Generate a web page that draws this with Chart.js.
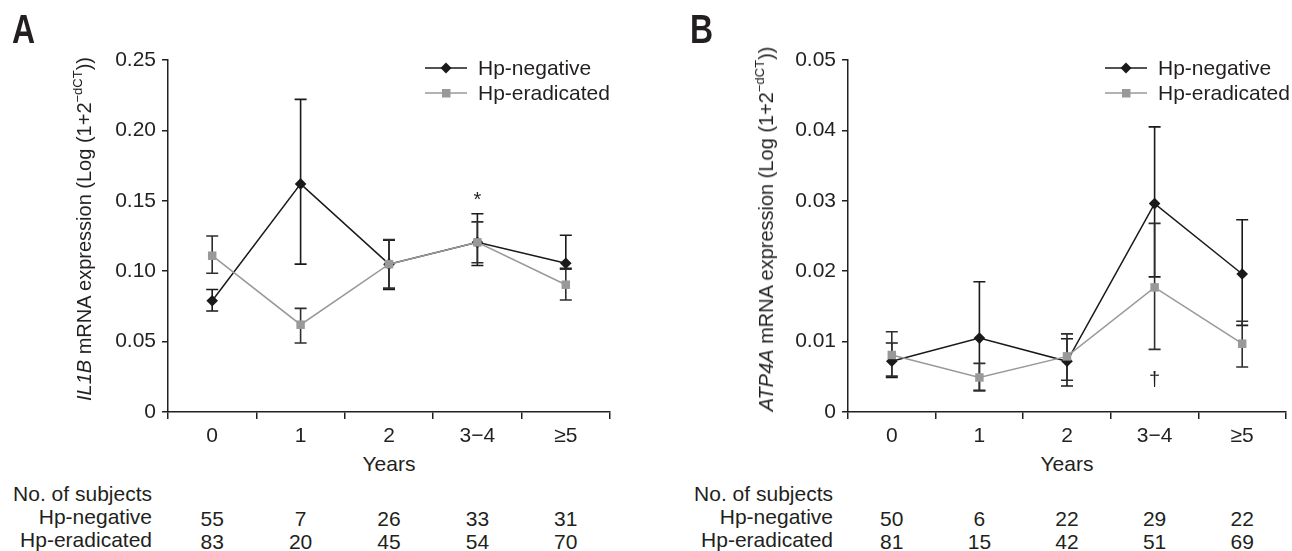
<!DOCTYPE html>
<html><head><meta charset="utf-8">
<script src="https://cdn.jsdelivr.net/npm/chart.js@4.4.0/dist/chart.umd.min.js"></script>
<style>
html,body{margin:0;padding:0;background:#fff;}
body{width:1292px;height:551px;position:relative;overflow:hidden;font-family:'Liberation Sans',Arial,sans-serif;color:#231f20;}
canvas{position:absolute;top:0;}
.t{position:absolute;white-space:nowrap;font-size:21px;line-height:24px;}
.letter{position:absolute;font-family:'Liberation Sans',Arial,sans-serif;font-weight:bold;font-size:40px;line-height:40px;transform:scaleX(0.8);transform-origin:0 0;}
.ytitle{position:absolute;white-space:nowrap;font-size:20px;line-height:24px;transform:translate(-50%,-50%) rotate(-90deg);}
.ytitle sup{font-size:13px;vertical-align:9px;line-height:0;}
</style></head><body>
<canvas id="cA" width="640" height="452" style="left:0"></canvas>
<canvas id="cB" width="652" height="452" style="left:640px"></canvas>
<div class="letter" style="left:12px;top:9px">A</div>
<div class="letter" style="left:690px;top:9px">B</div>
<div class="ytitle" style="left:84px;top:229px"><i>IL1B</i> mRNA expression (Log (1+2<sup>−dCT</sup>))</div>
<div class="ytitle" style="left:766px;top:229px"><i>ATP4A</i> mRNA expression (Log (1+2<sup>−dCT</sup>))</div>
<div id="overlay"></div>
<script>
// ---------- data ----------
const categories = ['0', '1', '2', '3−4', '≥5'];
const seriesNames = ['Hp-negative', 'Hp-eradicated'];

// Panel A: IL1B
const aNegMean = [0.079, 0.162, 0.105, 0.1205, 0.1056];
const aNegLow  = [0.0717, 0.105, 0.087, 0.104, 0.102];
const aNegHigh = [0.087, 0.222, 0.122, 0.1408, 0.1255];
const aEradMean = [0.111, 0.062, 0.105, 0.1205, 0.0904];
const aEradLow  = [0.0985, 0.049, 0.088, 0.106, 0.0795];
const aEradHigh = [0.125, 0.0736, 0.1225, 0.135, 0.1014];
const aTicks = [0, 0.05, 0.10, 0.15, 0.20, 0.25];
const aCountsNeg  = [55, 7, 26, 33, 31];
const aCountsErad = [83, 20, 45, 54, 70];
const aMarkText  = ['', '', '', '*', ''];
const aMarkValue = [null, null, null, 0.146, null];

// Panel B: ATP4A
const bNegMean = [0.0072, 0.0105, 0.0072, 0.0296, 0.0196];
const bNegLow  = [0.0049, 0.0031, 0.0037, 0.0192, 0.0123];
const bNegHigh = [0.0098, 0.0185, 0.0104, 0.0405, 0.0273];
const bEradMean = [0.0081, 0.0049, 0.0079, 0.0177, 0.0097];
const bEradLow  = [0.0051, 0.0030, 0.0045, 0.0089, 0.0064];
const bEradHigh = [0.0114, 0.0069, 0.0111, 0.0268, 0.0129];
const bTicks = [0, 0.01, 0.02, 0.03, 0.04, 0.05];
const bCountsNeg  = [50, 6, 22, 29, 22];
const bCountsErad = [81, 15, 42, 51, 69];
const bMarkText  = ['', '', '', '†', ''];
const bMarkValue = [null, null, null, 0.0037, null];

// ---------- styling ----------
const INK = '#231f20';
const NEG = '#1a1a1a';
const ERAD = '#999999';
const FONT = "'Liberation Sans', Arial, sans-serif";

const errBars = {
  id: 'errBars',
  beforeDatasetsDraw(chart) {
    const ctx = chart.ctx, ys = chart.scales.y;
    chart.data.datasets.forEach((ds, di) => {
      const meta = chart.getDatasetMeta(di);
      ctx.save();
      ctx.strokeStyle = ds.errColor;
      ctx.lineWidth = 1.6;
      ds.errLow.forEach((lo, i) => {
        const x = meta.data[i].x;
        const yl = ys.getPixelForValue(lo), yh = ys.getPixelForValue(ds.errHigh[i]);
        ctx.beginPath();
        ctx.moveTo(x, yl); ctx.lineTo(x, yh);
        ctx.moveTo(x - 6, yl); ctx.lineTo(x + 6, yl);
        ctx.moveTo(x - 6, yh); ctx.lineTo(x + 6, yh);
        ctx.stroke();
      });
      ctx.restore();
    });
  },
  afterDatasetsDraw(chart, args, opts) {
    const ctx = chart.ctx, xs = chart.scales.x, ys = chart.scales.y;
    ctx.save();
    ctx.fillStyle = INK;
    ctx.font = '20px ' + FONT;
    ctx.textAlign = 'center';
    ctx.textBaseline = 'alphabetic';
    opts.text.forEach((t, i) => {
      if (!t) return;
      ctx.fillText(t, xs.getPixelForValue(i), ys.getPixelForValue(opts.value[i]));
    });
    ctx.restore();
  }
};

function makeChart(id, yWidth, padRight, neg, negLo, negHi, erad, eradLo, eradHi, ticks, maxY, markText, markValue) {
  const canvas = document.getElementById(id);
  return new Chart(canvas, {
    type: 'line',
    data: {
      labels: categories,
      datasets: [
        { label: seriesNames[0], data: neg, errLow: negLo, errHigh: negHi, errColor: NEG,
          borderColor: NEG, backgroundColor: NEG, borderWidth: 1.5, tension: 0,
          pointStyle: 'rectRot', pointRadius: 5.8, pointBorderWidth: 0, pointBackgroundColor: NEG, order: 1 },
        { label: seriesNames[1], data: erad, errLow: eradLo, errHigh: eradHi, errColor: '#2e2e2e',
          borderColor: ERAD, backgroundColor: ERAD, borderWidth: 1.5, tension: 0,
          pointStyle: 'rect', pointRadius: 6, pointBorderWidth: 0, pointBackgroundColor: ERAD, order: 0 }
      ]
    },
    options: {
      responsive: false,
      animation: false,
      devicePixelRatio: 1,
      layout: { padding: { top: 60, right: padRight, left: 0, bottom: 0 } },
      plugins: {
        legend: { display: false },
        tooltip: { enabled: false },
        errBars: { text: markText, value: markValue }
      },
      scales: {
        x: {
          type: 'category',
          offset: true,
          grid: { offset: true, drawOnChartArea: false, drawTicks: true, tickLength: 7, color: INK, lineWidth: 1.5 },
          border: { display: true, color: INK, width: 1.5 },
          ticks: { color: INK, font: { family: FONT, size: 21 }, padding: 5, maxRotation: 0, autoSkip: false },
          afterFit: s => { s.height = 40; }
        },
        y: {
          min: 0, max: maxY,
          grid: { drawOnChartArea: false, drawTicks: true, tickLength: 6, color: INK, lineWidth: 1.5 },
          border: { display: true, color: INK, width: 1.5 },
          afterBuildTicks: s => { s.ticks = ticks.map(v => ({ value: v })); },
          ticks: { color: INK, font: { family: FONT, size: 21 }, padding: 6,
                   callback: v => (v === 0 ? '0' : Number(v).toFixed(2)) },
          afterFit: s => { s.width = yWidth; }
        }
      }
    },
    plugins: [errBars]
  });
}

const chartA = makeChart('cA', 168, 30, aNegMean, aNegLow, aNegHigh, aEradMean, aEradLow, aEradHigh, aTicks, 0.25, aMarkText, aMarkValue);
const chartB = makeChart('cB', 208, 1, bNegMean, bNegLow, bNegHigh, bEradMean, bEradLow, bEradHigh, bTicks, 0.05, bMarkText, bMarkValue);

// ---------- overlay text: legend, axis title, subject table ----------
const overlay = document.getElementById('overlay');
function addText(html, left, top, align) {
  const d = document.createElement('div');
  d.className = 't';
  d.innerHTML = html;
  d.style.top = top + 'px';
  if (align === 'right') { d.style.right = (1292 - left) + 'px'; d.style.textAlign = 'right'; }
  else if (align === 'center') { d.style.left = left + 'px'; d.style.transform = 'translateX(-50%)'; }
  else d.style.left = left + 'px';
  overlay.appendChild(d);
}
function legendIcon(kind) {
  const m = kind === 0
    ? `<polygon points="21,0.5 26.5,6 21,11.5 15.5,6" fill="${NEG}"/>`
    : `<rect x="17" y="2" width="8.5" height="8.5" fill="${ERAD}"/>`;
  const col = kind === 0 ? NEG : ERAD;
  return `<svg width="42" height="12" style="position:absolute;left:0;top:0"><line x1="0" y1="6" x2="42" y2="6" stroke="${col}" stroke-width="1.5"/>${m}</svg>`;
}
function addLegend(x, y) {
  seriesNames.forEach((n, k) => {
    const w = document.createElement('div');
    w.style.position = 'absolute';
    w.style.left = x + 'px';
    w.style.top = (y + k * 25 - 6) + 'px';
    w.innerHTML = legendIcon(k);
    overlay.appendChild(w);
    addText(n, x + 53, y + k * 25 - 12);
  });
}
function addPanelText(chart, offsetX, labelRight, negCounts, eradCounts) {
  const xs = chart.scales.x, ca = chart.chartArea;
  addText('Years', offsetX + (ca.left + ca.right) / 2, 452, 'center');
  addText('No. of subjects', labelRight, 482, 'right');
  addText(seriesNames[0], labelRight, 505, 'right');
  addText(seriesNames[1], labelRight, 528, 'right');
  categories.forEach((c, i) => {
    const cx = offsetX + xs.getPixelForValue(i);
    addText(String(negCounts[i]), cx, 507, 'center');
    addText(String(eradCounts[i]), cx, 530, 'center');
  });
}
addLegend(425, 68);
addLegend(1105, 68);
addPanelText(chartA, 0, 152, aCountsNeg, aCountsErad);
addPanelText(chartB, 640, 833, bCountsNeg, bCountsErad);
</script>
</body></html>
